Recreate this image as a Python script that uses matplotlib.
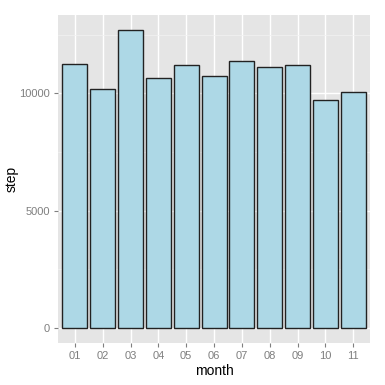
import numpy as np
from matplotlib import pyplot as plt

months = ["01", "02", "03", "04", "05", "06", "07", "08", "09", "10", "11"]
steps = [11230, 10180, 12700, 10640, 11190, 10750, 11390, 11140, 11200, 9700, 10040]

plt.rcParams["font.family"] = ["Liberation Sans", "DejaVu Sans"]

fig = plt.figure(figsize=(3.85, 3.85), dpi=100)
ax = fig.add_axes([0.151, 0.109, 0.81, 0.852])
ax.set_facecolor("#E5E5E5")

x = np.arange(1, len(months) + 1)
ax.bar(x, steps, width=0.9, color="#ADD8E6", edgecolor="#222222", linewidth=1.0, zorder=3)

ymax = max(steps)
ax.set_ylim(-0.05 * ymax, 1.05 * ymax)
ax.set_xlim(0.4, len(months) + 0.6)

ax.set_xticks(x)
ax.set_xticklabels(months)
ax.set_yticks([0, 5000, 10000])
ax.set_yticks([2500, 7500, 12500], minor=True)
ax.set_xticks([], minor=True)

ax.grid(which="major", color="white", linewidth=1.0, zorder=0)
ax.grid(which="minor", axis="y", color="#F2F2F2", linewidth=0.5, zorder=0)
ax.set_axisbelow(True)

for s in ax.spines.values():
    s.set_visible(False)

ax.tick_params(which="major", colors="#7F7F7F", length=3, width=0.8, labelsize=8, pad=3)
ax.tick_params(which="minor", length=0)
for lbl in ax.get_xticklabels() + ax.get_yticklabels():
    lbl.set_color("#7F7F7F")

ax.set_xlabel("month", fontsize=10, labelpad=2)
ax.set_ylabel("step", fontsize=10)
ax.yaxis.set_label_coords(-0.128, 0.5)

fig.savefig("out.png", dpi=100)
